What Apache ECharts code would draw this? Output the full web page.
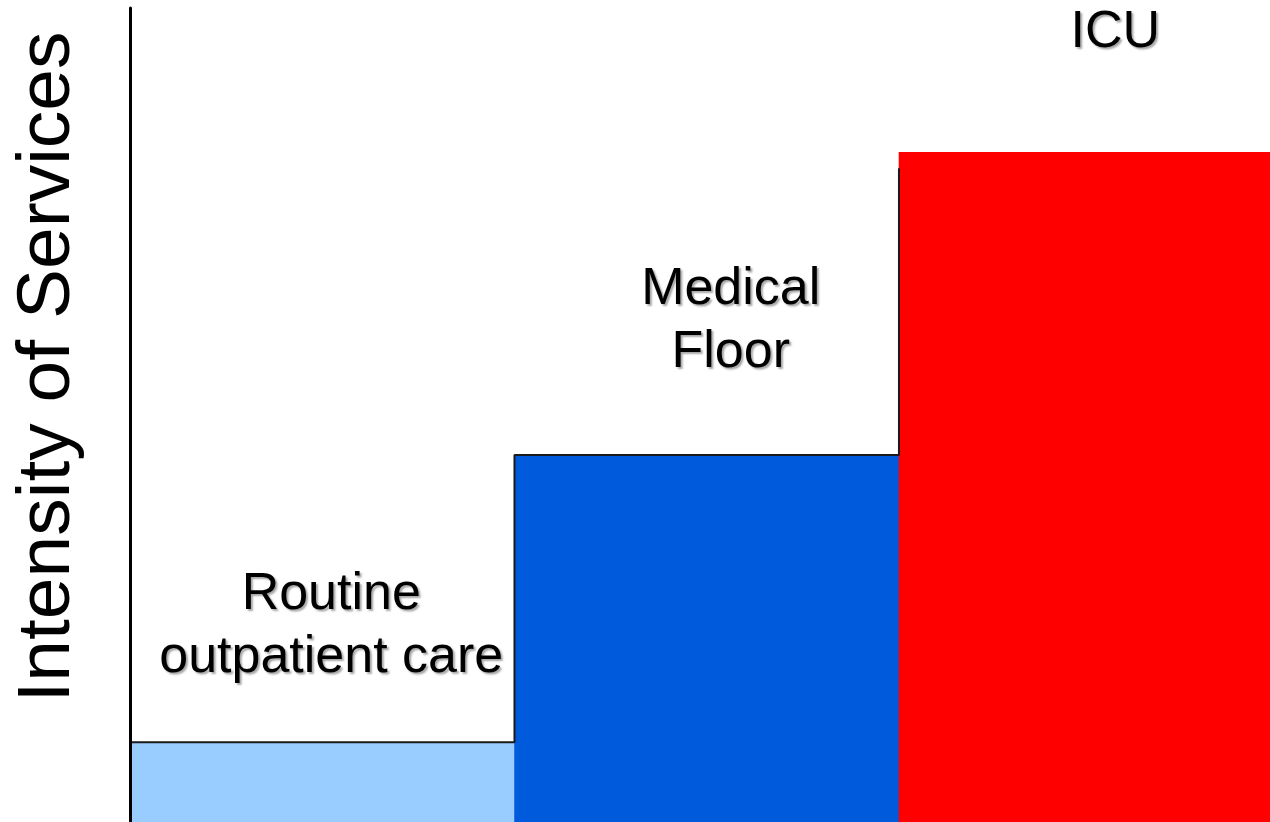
<!DOCTYPE html>
<html>
<head>
<meta charset="utf-8">
<script src="https://cdn.jsdelivr.net/npm/echarts@6/dist/echarts.min.js"></script>
<style>
html,body{margin:0;padding:0;background:#fff;}
#main{width:1270px;height:822px;}
</style>
</head>
<body>
<div id="main"></div>
<script>
var categories = ['Routine\noutpatient care', 'Medical\nFloor', 'ICU'];
var intensity = [9.8, 45.1, 82.3];
var stepTop = [80.3];
var barColors = ['#99CCFF', '#005ADC', '#FF0000'];

var dom = document.getElementById('main');
var myChart = echarts.init(dom);

// label offsets relative to bar top-centre
var labelOffsets = [[9, -53], [24, -71], [24, -88]];

var barData = [];
for (var i = 0; i < intensity.length; i++) {
    barData.push({
        name: categories[i],
        value: [i, intensity[i]],
        itemStyle: {color: barColors[i]},
        label: {offset: labelOffsets[i]}
    });
}

// staircase outline along bar edges
var stair = [
    [-0.5, intensity[0]], [0.5, intensity[0]],
    [0.5, intensity[1]], [1.5, intensity[1]],
    [1.5, stepTop[0]]
];

var textShadow = {
    textShadowColor: 'rgba(0,0,0,0.35)',
    textShadowOffsetX: 2,
    textShadowOffsetY: 2,
    textShadowBlur: 2
};

var option = {
    animation: false,
    backgroundColor: '#fff',
    grid: {left: 130, right: 0, top: 8, bottom: 0},
    xAxis: {
        type: 'value',
        min: -0.5,
        max: 2.465,
        show: false
    },
    yAxis: {
        type: 'value',
        min: 0,
        max: 100,
        axisLine: {show: true, onZero: false, lineStyle: {color: '#000', width: 3}},
        axisTick: {show: false},
        axisLabel: {show: false},
        splitLine: {show: false},
        z: 5
    },
    graphic: [{
        type: 'text',
        x: 48,
        y: 367,
        rotation: Math.PI / 2,
        style: {
            text: 'Intensity of Services',
            fontFamily: 'Liberation Sans, Arial, sans-serif',
            fontSize: 75,
            fill: '#000',
            align: 'center',
            verticalAlign: 'middle'
        }
    }],
    series: [{
        type: 'bar',
        data: barData,
        barWidth: 385,
        clip: false,
        label: Object.assign({
            show: true,
            position: 'top',
            distance: 0,
            formatter: function (p) { return p.name; },
            fontFamily: 'Liberation Sans, Arial, sans-serif',
            fontSize: 52,
            lineHeight: 63,
            color: '#000',
            align: 'center'
        }, textShadow)
    }, {
        type: 'line',
        data: stair,
        symbol: 'none',
        lineStyle: {color: '#1a1a1a', width: 2},
        z: 3
    }]
};
myChart.setOption(option, true);
</script>
</body>
</html>
